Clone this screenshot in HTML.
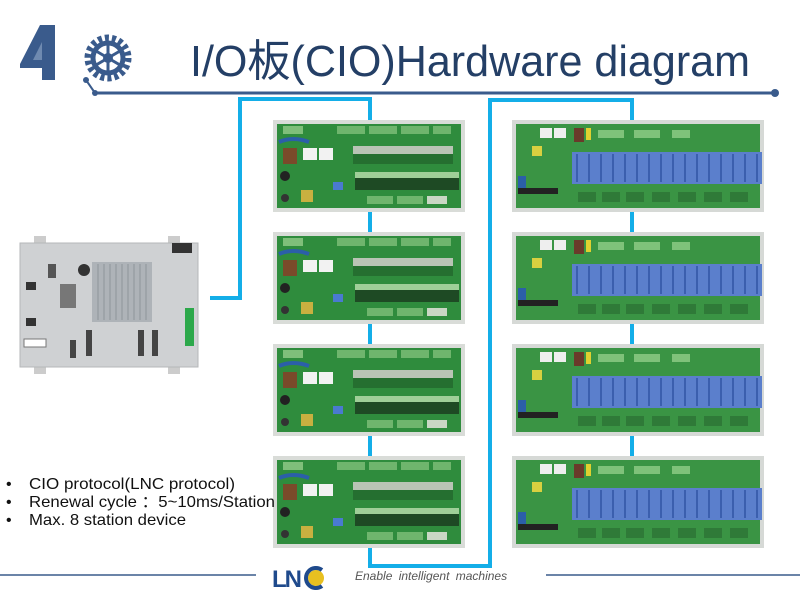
<!DOCTYPE html>
<html><head><meta charset="utf-8"><style>
html,body{margin:0;padding:0;background:#fff;width:800px;height:600px;overflow:hidden}
svg{display:block}
</style></head><body>
<svg width="800" height="600" viewBox="0 0 800 600" xmlns="http://www.w3.org/2000/svg">
<defs>
<g id="lb">
<rect x="0" y="0" width="192" height="92" fill="#d9dcd8"/>
<rect x="4" y="4" width="184" height="84" fill="#2f8c3d"/>
<rect x="10" y="6" width="20" height="8" fill="#7fbf7a"/>
<rect x="64" y="6" width="28" height="8" fill="#6fb56d"/><rect x="96" y="6" width="28" height="8" fill="#6fb56d"/><rect x="128" y="6" width="28" height="8" fill="#6fb56d"/><rect x="160" y="6" width="18" height="8" fill="#6fb56d"/>
<path d="M6 22 Q20 16 36 22" stroke="#2b5fa8" stroke-width="4" fill="none"/>
<rect x="10" y="28" width="14" height="16" fill="#7a4a2a"/>
<rect x="30" y="28" width="14" height="12" fill="#f2f2f2"/><rect x="46" y="28" width="14" height="12" fill="#f2f2f2"/>
<rect x="80" y="26" width="100" height="8" fill="#b9c4b5"/>
<rect x="80" y="34" width="100" height="10" fill="#256f30"/>
<rect x="82" y="52" width="104" height="6" fill="#9fcf98"/>
<rect x="82" y="58" width="104" height="12" fill="#1e4a24"/>
<rect x="60" y="62" width="10" height="8" fill="#4a7ad0"/>
<rect x="28" y="70" width="12" height="12" fill="#c8b040"/>
<circle cx="12" cy="56" r="5" fill="#222"/><circle cx="12" cy="78" r="4" fill="#333"/>
<rect x="94" y="76" width="26" height="8" fill="#6fb56d"/><rect x="124" y="76" width="26" height="8" fill="#6fb56d"/><rect x="154" y="76" width="20" height="8" fill="#c9d7c4"/>
</g>
<g id="rb">
<rect x="0" y="0" width="252" height="92" fill="#d6d9d6"/>
<rect x="4" y="4" width="244" height="84" fill="#3a9444"/>
<rect x="28" y="8" width="12" height="10" fill="#eee"/><rect x="42" y="8" width="12" height="10" fill="#eee"/>
<rect x="62" y="8" width="10" height="14" fill="#6a3a2a"/><rect x="74" y="8" width="5" height="12" fill="#e0d030"/>
<rect x="86" y="10" width="26" height="8" fill="#7fc27a"/><rect x="122" y="10" width="26" height="8" fill="#7fc27a"/><rect x="160" y="10" width="18" height="8" fill="#7fc27a"/>
<rect x="20" y="26" width="10" height="10" fill="#d8d040"/>
<rect x="60" y="32" width="190" height="32" fill="#5b7fcc"/>
<g fill="#3b5fae"><rect x="64" y="34" width="2" height="28"/><rect x="76" y="34" width="2" height="28"/><rect x="88" y="34" width="2" height="28"/><rect x="100" y="34" width="2" height="28"/><rect x="112" y="34" width="2" height="28"/><rect x="124" y="34" width="2" height="28"/><rect x="136" y="34" width="2" height="28"/><rect x="148" y="34" width="2" height="28"/><rect x="160" y="34" width="2" height="28"/><rect x="172" y="34" width="2" height="28"/><rect x="184" y="34" width="2" height="28"/><rect x="196" y="34" width="2" height="28"/><rect x="208" y="34" width="2" height="28"/><rect x="220" y="34" width="2" height="28"/><rect x="232" y="34" width="2" height="28"/><rect x="244" y="34" width="2" height="28"/></g>
<rect x="6" y="68" width="40" height="6" fill="#222"/>
<rect x="6" y="56" width="8" height="12" fill="#2b5fa8"/>
<g fill="#2f7a38"><rect x="66" y="72" width="18" height="10"/><rect x="90" y="72" width="18" height="10"/><rect x="114" y="72" width="18" height="10"/><rect x="140" y="72" width="18" height="10"/><rect x="166" y="72" width="18" height="10"/><rect x="192" y="72" width="18" height="10"/><rect x="218" y="72" width="18" height="10"/></g>
</g>
</defs>

<!-- header -->
<polygon points="20,64 40,25 55,25 55,80 42,80 42,68 20,68" fill="#3a5b8c"/>
<polygon points="42,42 42,60 33,60" fill="#6f8ab0"/>
<g transform="translate(108,58)">
<circle r="20" fill="none" stroke="#3a5b8c" stroke-width="7" stroke-dasharray="4 3"/>
<circle r="15" fill="none" stroke="#3a5b8c" stroke-width="5"/>
<circle r="5" fill="#3a5b8c"/>
<g stroke="#3a5b8c" stroke-width="3"><line x1="0" y1="-14" x2="0" y2="14"/><line x1="-12" y1="-7" x2="12" y2="7"/><line x1="-12" y1="7" x2="12" y2="-7"/></g>
</g>
<line x1="86" y1="80" x2="95" y2="93" stroke="#3a5b8c" stroke-width="2"/>
<circle cx="86" cy="80" r="3" fill="#3a5b8c"/>
<line x1="95" y1="93" x2="775" y2="93" stroke="#3a5b8c" stroke-width="3"/>
<circle cx="95" cy="93" r="3" fill="#3a5b8c"/><circle cx="775" cy="93" r="4" fill="#3a5b8c"/>
<text x="190" y="76" font-family="Liberation Sans, Noto Sans CJK TC, sans-serif" font-size="44" fill="#243f66" textLength="560" lengthAdjust="spacingAndGlyphs">I/O板(CIO)Hardware diagram</text>

<!-- blue connectors -->
<g stroke="#14aee8" stroke-width="4" fill="none">
<polyline points="210,298 240,298 240,99 370,99 370,566 490,566 490,100 632,100 632,460"/>
</g>

<!-- controller -->
<rect x="34" y="236" width="12" height="8" fill="#ccc"/><rect x="168" y="236" width="12" height="8" fill="#ccc"/>
<rect x="34" y="366" width="12" height="8" fill="#ccc"/><rect x="168" y="366" width="12" height="8" fill="#ccc"/>
<rect x="20" y="243" width="178" height="124" fill="#cfd1d3" stroke="#b5b7b9"/>
<rect x="92" y="262" width="60" height="60" fill="#aeb3b8"/>
<g stroke="#8e949a" stroke-width="1"><line x1="98" y1="264" x2="98" y2="320"/><line x1="104" y1="264" x2="104" y2="320"/><line x1="110" y1="264" x2="110" y2="320"/><line x1="116" y1="264" x2="116" y2="320"/><line x1="122" y1="264" x2="122" y2="320"/><line x1="128" y1="264" x2="128" y2="320"/><line x1="134" y1="264" x2="134" y2="320"/><line x1="140" y1="264" x2="140" y2="320"/><line x1="146" y1="264" x2="146" y2="320"/></g>
<circle cx="84" cy="270" r="6" fill="#333"/>
<rect x="60" y="284" width="16" height="24" fill="#777"/>
<rect x="48" y="264" width="8" height="14" fill="#555"/>
<rect x="172" y="243" width="20" height="10" fill="#333"/>
<rect x="185" y="308" width="9" height="38" fill="#2ca84a"/>
<rect x="24" y="339" width="22" height="8" fill="#fff" stroke="#777"/>
<rect x="70" y="340" width="6" height="18" fill="#444"/><rect x="86" y="330" width="6" height="26" fill="#444"/>
<rect x="138" y="330" width="6" height="26" fill="#444"/><rect x="152" y="330" width="6" height="26" fill="#444"/>
<rect x="26" y="282" width="10" height="8" fill="#333"/><rect x="26" y="318" width="10" height="8" fill="#333"/>

<!-- boards -->
<use href="#lb" x="273" y="120"/>
<use href="#lb" x="273" y="232"/>
<use href="#lb" x="273" y="344"/>
<use href="#lb" x="273" y="456"/>
<use href="#rb" x="512" y="120"/>
<use href="#rb" x="512" y="232"/>
<use href="#rb" x="512" y="344"/>
<use href="#rb" x="512" y="456"/>

<!-- bullets -->
<g font-family="Liberation Sans, sans-serif" font-size="16" fill="#111">
<text x="6" y="489">•</text><text x="29" y="489" textLength="206" lengthAdjust="spacingAndGlyphs">CIO protocol(LNC protocol)</text>
<text x="6" y="507">•</text><text x="29" y="507" textLength="246" lengthAdjust="spacingAndGlyphs">Renewal cycle ：5~10ms/Station</text>
<text x="6" y="525">•</text><text x="29" y="525" textLength="157" lengthAdjust="spacingAndGlyphs">Max. 8 station device</text>
</g>

<!-- footer -->
<line x1="0" y1="575" x2="256" y2="575" stroke="#3a5b8c" stroke-width="1.5"/>
<line x1="546" y1="575" x2="800" y2="575" stroke="#3a5b8c" stroke-width="1.5"/>
<text x="272" y="587" font-family="Liberation Sans, sans-serif" font-size="24" font-weight="bold" fill="#1f4a8c" letter-spacing="-2">LN</text>
<circle cx="316" cy="578" r="8" fill="#e8c020"/>
<path d="M322 570 A10 10 0 1 0 322 586" stroke="#1f4a8c" stroke-width="4" fill="none"/>
<text x="355" y="580" font-family="Liberation Sans, sans-serif" font-size="12" font-style="italic" fill="#555" word-spacing="3">Enable intelligent machines</text>
</svg>
</body></html>
